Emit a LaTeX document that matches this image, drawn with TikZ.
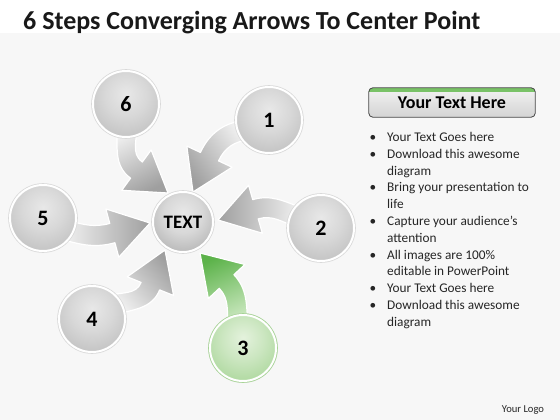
\documentclass[tikz,border=0pt]{standalone}
\usepackage{fontspec}
\setmainfont{Carlito}
\usetikzlibrary{calc}
\definecolor{sphA}{HTML}{E8E8E8}
\definecolor{sphB}{HTML}{D8D8D8}
\definecolor{sphC}{HTML}{BABABA}
\definecolor{sphD}{HTML}{9E9E9E}
\definecolor{sphE}{HTML}{ABABAB}
\definecolor{cphC}{HTML}{ABABAB}
\definecolor{cphD}{HTML}{8A8A8A}
\definecolor{cphE}{HTML}{969696}
\definecolor{grA}{HTML}{E4F2DD}
\definecolor{grB}{HTML}{CBE6C0}
\definecolor{grC}{HTML}{A3D392}
\definecolor{grD}{HTML}{78BF64}
\definecolor{grE}{HTML}{88C775}
\definecolor{grRing}{HTML}{A6D594}
\definecolor{grArL}{HTML}{CBE8C0}
\definecolor{grArD}{HTML}{5DB34B}
\definecolor{hdrGreen}{HTML}{79C267}
\pgfdeclareradialshading{graysph}{\pgfpoint{0bp}{8bp}}{color(0bp)=(sphA); color(16bp)=(sphB); color(38bp)=(sphC); color(52bp)=(sphD); color(60bp)=(sphE); color(100bp)=(sphE)}
\pgfdeclareradialshading{centersph}{\pgfpoint{0bp}{8bp}}{color(0bp)=(sphA); color(16bp)=(sphB); color(38bp)=(cphC); color(52bp)=(cphD); color(60bp)=(cphE); color(100bp)=(cphE)}
\pgfdeclareradialshading{greensph}{\pgfpoint{0bp}{8bp}}{color(0bp)=(grA); color(16bp)=(grB); color(38bp)=(grC); color(52bp)=(grD); color(60bp)=(grE); color(100bp)=(grE)}
\def\arW{10}
\def\arH{25}
\def\arL{39}
\newcommand\cvarrow[5]{%
  \pgfmathsetmacro\cvin{#4+180}%
  \pgfmathsetmacro\cvsh{(#2+#4)/2-90}%
  \coordinate (cvB) at ($(#3)+(\cvin:\arL)$);
  \path[#5, shading angle=\cvsh]
    ($(#1)+(#2+90:\arW)$) to[out=#2,in=\cvin] ($(cvB)+(#4+90:\arW)$)
    -- ($(cvB)+(#4+90:\arH)$) -- (#3) -- ($(cvB)+(#4-90:\arH)$)
    -- ($(cvB)+(#4-90:\arW)$) to[out=\cvin,in=#2] ($(#1)+(#2-90:\arW)$) -- cycle;
}
\tikzset{
  grayarrow/.style={top color=gray!75, bottom color=gray!10, draw=white, line width=1.2, line join=round},
  greenarrow/.style={top color=grArD, bottom color=grArL, draw=white, line width=1.2, line join=round},
  sph/.style={circle, minimum size=66, inner sep=0, shade, shading=graysph, draw=white, line width=2,
    preaction={draw=gray!30, line width=3.6}, font=\fontsize{22}{26}\selectfont\bfseries},
  gsph/.style={sph, shading=greensph, preaction={draw=grRing, line width=3.6}},
  csph/.style={sph, shading=centersph, minimum size=60, font=\fontsize{19}{22}\selectfont\bfseries},
}
\begin{document}
\begin{tikzpicture}[x=1pt,y=1pt]
\useasboundingbox (0,0) rectangle (560,-420);
\fill[white] (0,0) rectangle (560,-420);
\fill[gray!6] (0,-33) rectangle (560,-420);
\node[anchor=base west, inner sep=0, font=\fontsize{26}{30}\selectfont\bfseries, text=black!90] (title) at (23,-29.5) {6 Steps Converging Arrows To Center Point};

% tails and tips
\coordinate (s6) at (127,-125); \coordinate (t6) at (168,-193);
\coordinate (s1) at (248,-130); \coordinate (t1) at (193,-192);
\coordinate (s2) at (298,-217); \coordinate (t2) at (218,-220);
\coordinate (s5) at (65,-230);  \coordinate (t5) at (150,-223);
\coordinate (s4) at (112,-305); \coordinate (t4) at (165,-250);
\coordinate (s3) at (238,-325); \coordinate (t3) at (200,-253);

\cvarrow{s6}{-88}{t6}{-36}{grayarrow}
\cvarrow{s1}{185}{t1}{245}{grayarrow}
\cvarrow{s2}{160}{t2}{196}{grayarrow}
\cvarrow{s5}{-15}{t5}{15}{grayarrow}
\cvarrow{s4}{15}{t4}{68}{grayarrow}
\cvarrow{s3}{95}{t3}{133}{greenarrow}

\node[sph] (n6) at (126,-104) {6};
\node[sph] (n1) at (269,-120) {1};
\node[sph] (n2) at (321,-228) {2};
\node[sph] (n5) at (43,-218) {5};
\node[sph] (n4) at (92,-319) {4};
\node[gsph] (n3) at (243,-348) {3};
\node[csph] (c) at (183,-222) {TEXT};

% right panel
\node[minimum width=166, minimum height=29, inner sep=0, rounded corners=4,
  top color=gray!10, bottom color=gray!34, font=\fontsize{18}{22}\selectfont\bfseries] (hdr) at (452,-102.5) {Your Text Here};
\begin{scope}
  \clip[rounded corners=4] (hdr.south west) rectangle (hdr.north east);
  \fill[hdrGreen] (hdr.north west) rectangle ($(hdr.north east)+(0,-4)$);
\end{scope}
\draw[rounded corners=4, gray!55!black, line width=0.8] (hdr.south west) rectangle (hdr.north east);

\node[anchor=base west, inner sep=0, font=\fontsize{13.3}{16.8}\selectfont, text=black!85] (list) at (369.5,-141.5) {%
\begin{tabular}[t]{@{}p{17.5pt}@{}l@{}}
\textbullet & Your Text Goes here\\
\textbullet & Download this awesome\\
 & diagram\\
\textbullet & Bring your presentation to\\
 & life\\
\textbullet & Capture your audience’s\\
 & attention\\
\textbullet & All images are 100\%\\
 & editable in PowerPoint\\
\textbullet & Your Text Goes here\\
\textbullet & Download this awesome\\
 & diagram
\end{tabular}};

\node[inner sep=0, font=\fontsize{10.6}{12}\selectfont, text=black!85] (logo) at (523,-410) {Your Logo};
\end{tikzpicture}
\end{document}
